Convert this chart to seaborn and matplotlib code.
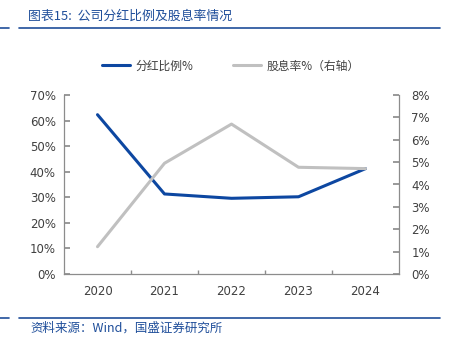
import matplotlib
matplotlib.use("Agg")
import matplotlib.pyplot as plt
import seaborn as sns
import pandas as pd
from matplotlib.lines import Line2D

years = ["2020", "2021", "2022", "2023", "2024"]
payout = [62.3, 31.3, 29.6, 30.2, 41.2]
yield_ = [1.22, 4.95, 6.70, 4.77, 4.71]
left_ticks = [0, 10, 20, 30, 40, 50, 60, 70]
right_ticks = [0, 1, 2, 3, 4, 5, 6, 7, 8]

sns.set_theme(style="white")
plt.rcParams['font.family'] = ['Noto Sans CJK SC', 'DejaVu Sans']

BLUE = "#0D47A1"
GRAY = "#C0C0C0"
NAVY = "#1F4E9A"
TXT = "#404040"
NUMFONT = ['DejaVu Sans']

fig = plt.figure(figsize=(4.54, 3.46), dpi=100)
ax = fig.add_axes([64/454, 1-274/346, (399-64)/454, (274-95)/346])
df = pd.DataFrame({"year": years, "payout": payout, "yield": yield_})
sns.lineplot(data=df, x="year", y="payout", ax=ax, color=BLUE, linewidth=2.2, sort=False)
ax2 = ax.twinx()
sns.lineplot(data=df, x="year", y="yield", ax=ax2, color=GRAY, linewidth=2.2, sort=False)

ax.set_xlim(-0.5, len(years) - 0.5)
ax.set_ylim(0, 70)
ax2.set_ylim(0, 8)
ax.set_yticks(left_ticks)
ax.set_yticklabels([f"{v}%" for v in left_ticks], family=NUMFONT)
ax2.set_yticks(right_ticks)
ax2.set_yticklabels([f"{v}%" for v in right_ticks], family=NUMFONT)
ax.set_xticks(range(len(years)))
ax.set_xticklabels(years, family=NUMFONT)
ax.set_xticks([i + 0.5 for i in range(len(years) - 1)], minor=True)
for a in (ax, ax2):
    a.set_xlabel("")
    a.set_ylabel("")
    for s in a.spines.values():
        s.set_visible(False)
    a.grid(False)
ax.spines['left'].set_visible(True)
ax.spines['bottom'].set_visible(True)
ax2.spines['right'].set_visible(True)
for s in (ax.spines['left'], ax.spines['bottom'], ax2.spines['right']):
    s.set_color("#8C8C8C")
    s.set_linewidth(0.9)
ax.tick_params(axis='y', which='major', left=True, direction='in', length=4, color="#8C8C8C",
               labelsize=8.5, labelcolor=TXT, pad=6)
ax.tick_params(axis='x', which='major', bottom=False, labelsize=8.5, labelcolor=TXT, pad=2)
ax.tick_params(axis='x', which='minor', bottom=True, direction='in', length=3, color="#8C8C8C")
ax2.tick_params(axis='y', right=True, direction='in', length=4, color="#8C8C8C",
                labelsize=8.5, labelcolor=TXT, pad=9)

# legend
handles = [Line2D([], [], color=BLUE, lw=2.2), Line2D([], [], color=GRAY, lw=2.2)]
fig.legend(handles, ["分红比例%", "股息率%（右轴）"], loc="center", bbox_to_anchor=(231/454, 1-66/346),
           ncol=2, frameon=False, fontsize=8.5, handlelength=2.3, columnspacing=3.4,
           labelcolor=TXT, handletextpad=0.5)

# title and rules
fig.text(28/454, 1-16/346, "图表15:  公司分红比例及股息率情况", fontsize=9.3, color=NAVY,
         style='italic', va='center', ha='left')
for y in (28, 318):
    fig.add_artist(Line2D([0, 9/454], [1-y/346]*2, color=NAVY, lw=1.2))
    fig.add_artist(Line2D([19/454, 440/454], [1-y/346]*2, color=NAVY, lw=1.2))
fig.text(30/454, 1-328/346, "资料来源：Wind，国盛证券研究所", fontsize=9, color=NAVY,
         style='italic', va='center', ha='left')

fig.savefig("out.png", dpi=100)
